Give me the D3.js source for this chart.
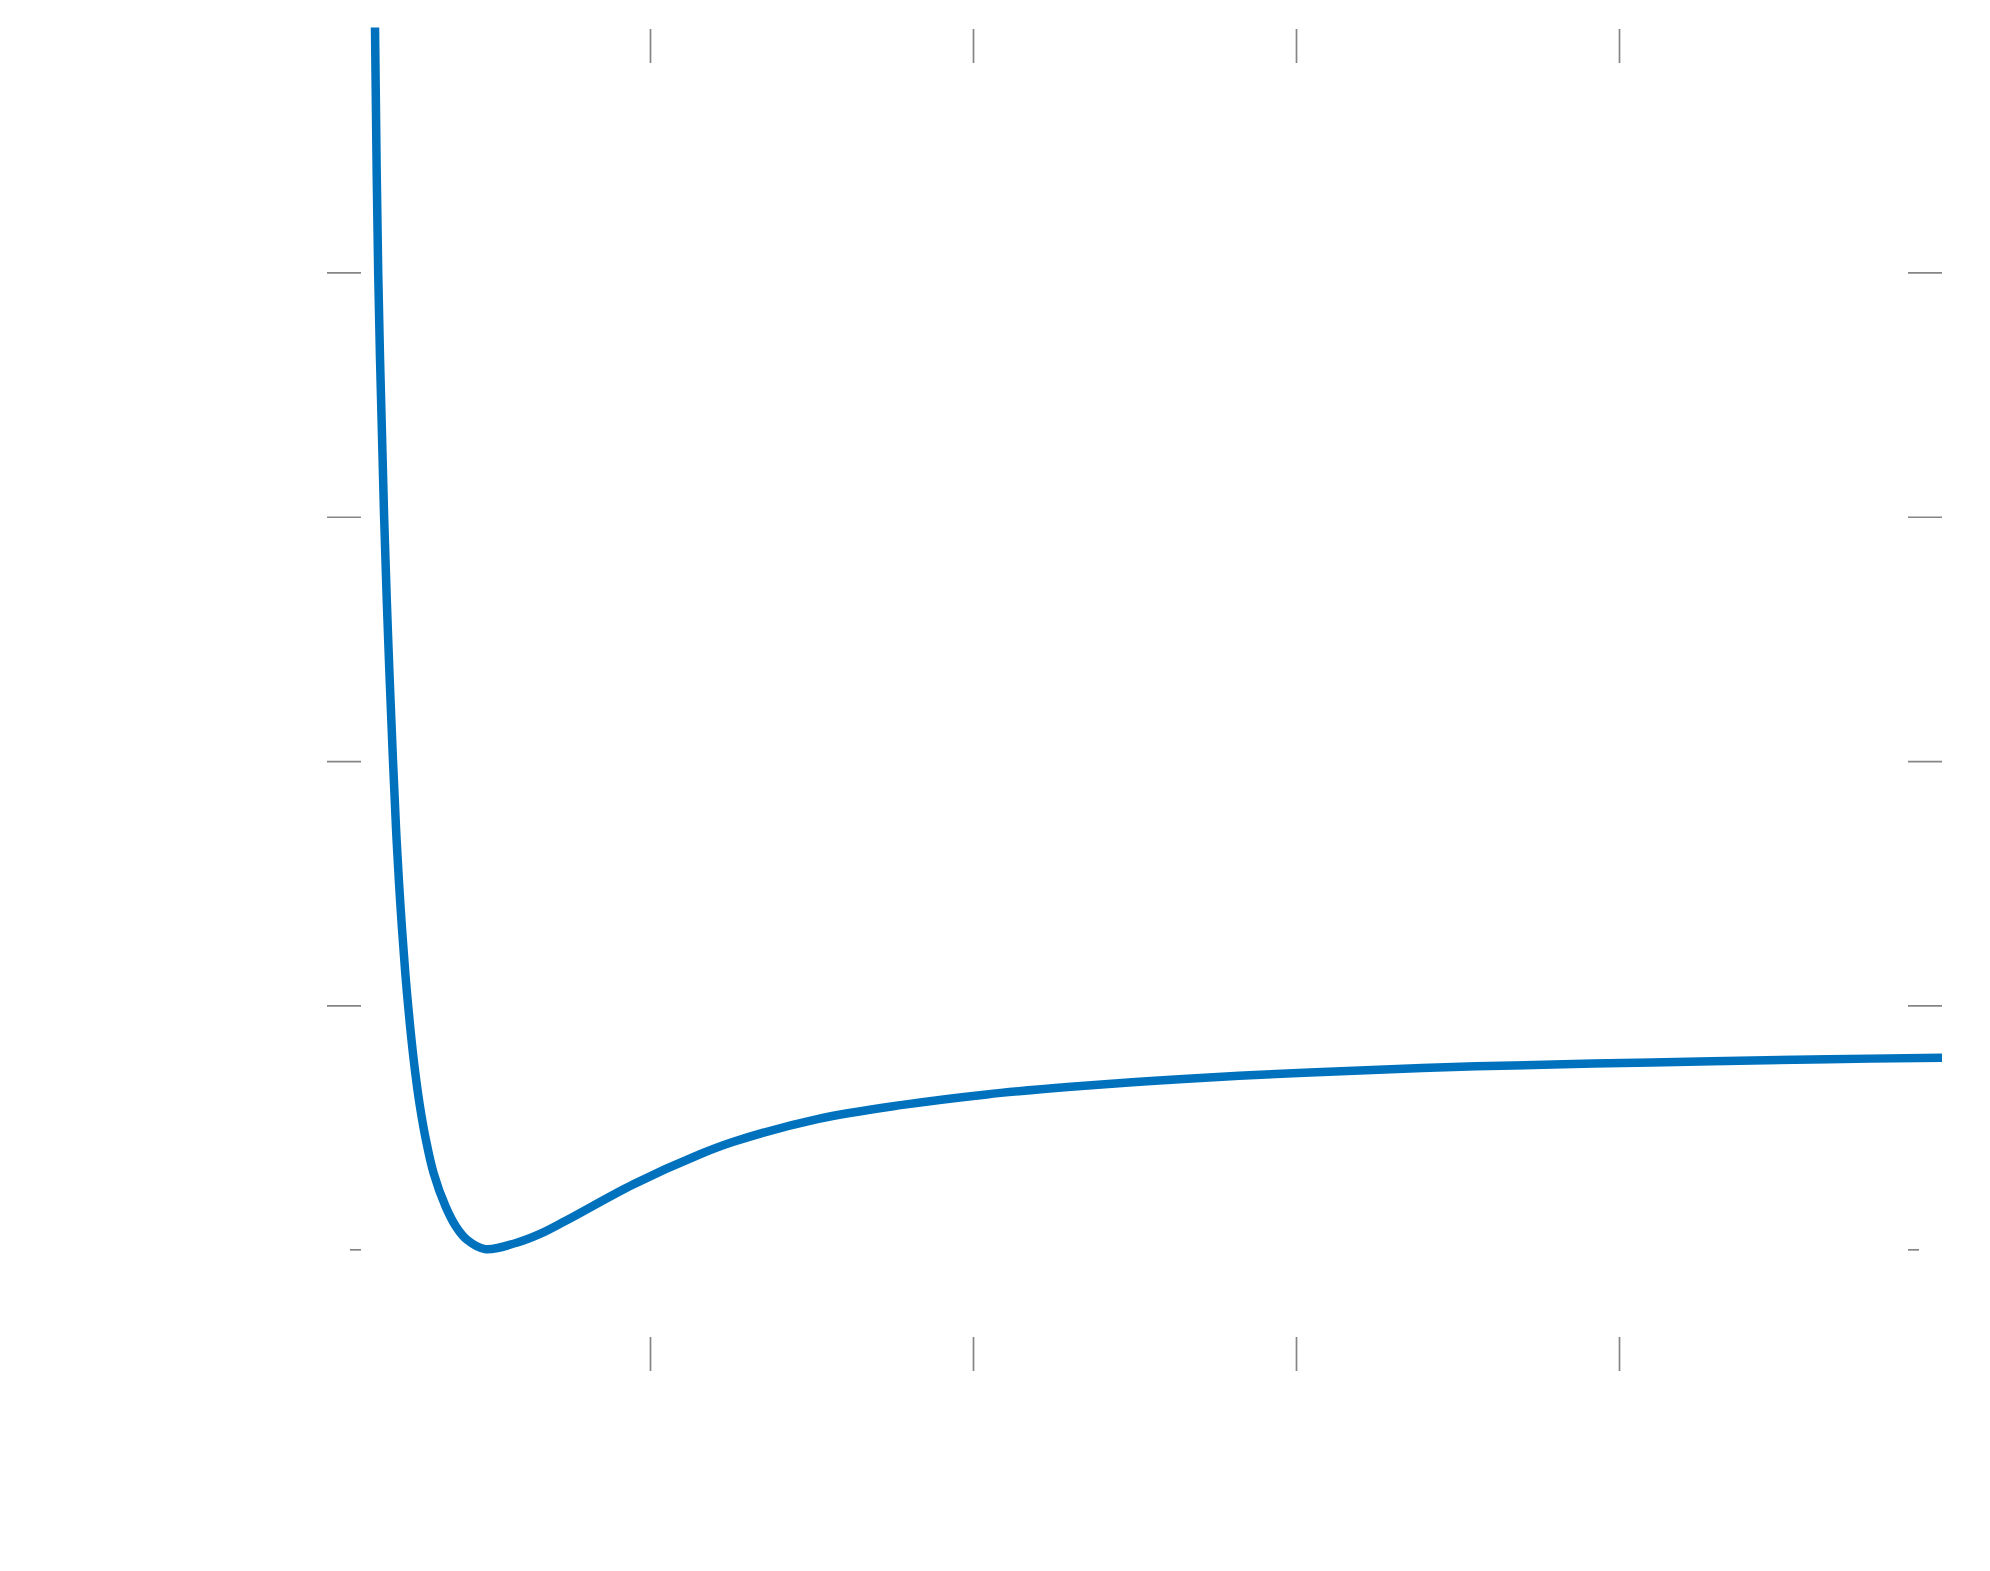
<!DOCTYPE html>
<html>
<head>
<meta charset="utf-8">
<script src="https://cdn.jsdelivr.net/npm/d3@7"></script>
<style>
  html, body { margin: 0; padding: 0; background: #ffffff; }
  svg { display: block; }
</style>
</head>
<body>
<svg id="chart" width="1990" height="1571"></svg>
<script>
// Separation r (reduced units) and potential energy V (reduced units)
const rValues = [0.1486, 0.1585, 0.1768, 0.1895, 0.2043, 0.2155, 0.2276, 0.2424, 0.2511, 0.2616,
                 0.2734, 0.2879, 0.3062, 0.3300, 0.3672, 0.3994, 0.4334, 0.4892, 0.5873, 0.6594,
                 0.7421, 0.9483, 1.1548, 1.2607, 1.5214, 1.7817, 2.0424, 2.3031, 2.5635, 2.8241,
                 3.0433, 3.5573, 4.1022, 4.6471, 5.0000];
const vValues = [4.002, 3.000, 2.000, 1.495, 1.001, 0.677, 0.404, 0.132, 0.000, -0.141,
                 -0.277, -0.414, -0.550, -0.686, -0.823, -0.905, -0.959, -0.997, -0.971, -0.935,
                 -0.879, -0.732, -0.609, -0.557, -0.464, -0.407, -0.364, -0.333, -0.308, -0.288,
                 -0.274, -0.249, -0.233, -0.220, -0.214];
const xDomain = [0, 5];
const yDomain = [-1.5, 4];
const xTickValues = [1, 2, 3, 4];
const yTickValues = [0, 1, 2, 3];
const yMinTick = [-1];

(function () {
  const svg = d3.select("#chart");
  const plotLeft = 327, plotRight = 1942, plotTop = 28, plotBottom = 1372;
  const tickLen = 34;
  const tickColor = "#858585";

  const x = d3.scaleLinear().domain(xDomain).range([plotLeft, plotRight]);
  const y = d3.scaleLinear().domain(yDomain).range([plotBottom, plotTop]);

  function styleAxis(g) {
    g.select(".domain").remove();
    g.selectAll(".tick text").remove();
    g.selectAll(".tick line").attr("stroke", tickColor).attr("stroke-width", 1.7);
  }

  // top & bottom ticks (pointing inward)
  svg.append("g").attr("transform", `translate(0,${plotTop + 1})`)
    .call(d3.axisTop(x).tickValues(xTickValues).tickSize(-tickLen)).call(styleAxis);
  svg.append("g").attr("transform", `translate(0,${plotBottom - 1})`)
    .call(d3.axisBottom(x).tickValues(xTickValues).tickSize(-tickLen)).call(styleAxis);

  // left & right ticks (pointing inward)
  svg.append("g").attr("transform", `translate(${plotLeft},0)`)
    .call(d3.axisLeft(y).tickValues(yTickValues).tickSize(-tickLen)).call(styleAxis);
  svg.append("g").attr("transform", `translate(${plotRight},0)`)
    .call(d3.axisRight(y).tickValues(yTickValues).tickSize(-tickLen)).call(styleAxis);

  // short ticks at the well depth
  const minTicks = svg.append("g");
  yMinTick.forEach(v => {
    minTicks.append("line")
      .attr("x1", plotLeft + 23).attr("x2", plotLeft + tickLen)
      .attr("y1", y(v)).attr("y2", y(v))
      .attr("stroke", tickColor).attr("stroke-width", 1.7);
    minTicks.append("line")
      .attr("x1", plotRight - 23).attr("x2", plotRight - tickLen)
      .attr("y1", y(v)).attr("y2", y(v))
      .attr("stroke", tickColor).attr("stroke-width", 1.7);
  });

  // curve
  const pts = rValues.map((r, i) => [r, vValues[i]]);
  const line = d3.line()
    .x(d => x(d[0]))
    .y(d => y(d[1]))
    .curve(d3.curveCatmullRom.alpha(0.5));

  svg.append("path")
    .datum(pts)
    .attr("d", line)
    .attr("fill", "none")
    .attr("stroke", "#0072BD")
    .attr("stroke-width", 8.5)
    .attr("stroke-linecap", "butt")
    .attr("stroke-linejoin", "round");
})();
</script>
</body>
</html>
